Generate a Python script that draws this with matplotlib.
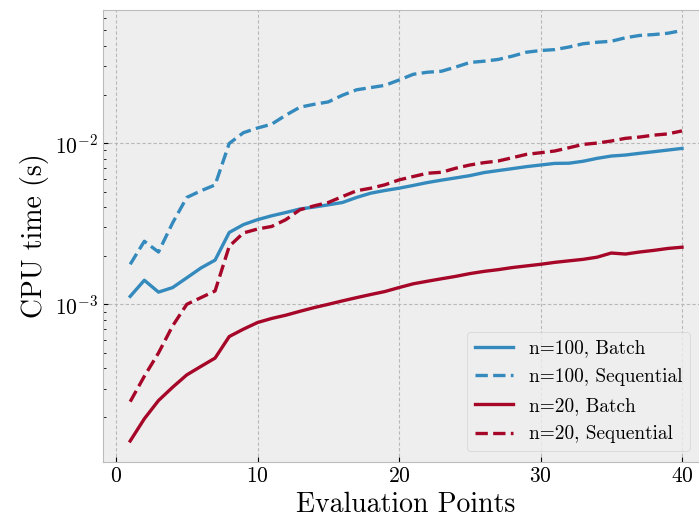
import matplotlib
matplotlib.use("Agg")
import matplotlib.pyplot as plt

plt.style.use('bmh')
plt.rcParams['font.family'] = 'serif'
plt.rcParams['font.serif'] = ['cmr10']
plt.rcParams['mathtext.fontset'] = 'cm'
plt.rcParams['axes.formatter.use_mathtext'] = True

# evaluation points 1..40
points = list(range(1, 41))

# n=100
batch_100 = [1.12e-3, 1.41e-3, 1.19e-3, 1.27e-3, 1.46e-3, 1.68e-3, 1.88e-3, 2.79e-3, 3.12e-3, 3.35e-3,
             3.54e-3, 3.71e-3, 3.90e-3, 4.01e-3, 4.14e-3, 4.28e-3, 4.60e-3, 4.89e-3, 5.08e-3, 5.25e-3,
             5.46e-3, 5.69e-3, 5.89e-3, 6.08e-3, 6.28e-3, 6.56e-3, 6.75e-3, 6.94e-3, 7.14e-3, 7.31e-3,
             7.48e-3, 7.50e-3, 7.71e-3, 8.04e-3, 8.31e-3, 8.43e-3, 8.64e-3, 8.84e-3, 9.05e-3, 9.27e-3]
seq_100 = [1.77e-3, 2.46e-3, 2.11e-3, 3.2e-3, 4.6e-3, 5.06e-3, 5.5e-3, 9.95e-3, 1.16e-2, 1.24e-2,
           1.31e-2, 1.49e-2, 1.67e-2, 1.74e-2, 1.80e-2, 1.98e-2, 2.14e-2, 2.21e-2, 2.28e-2, 2.46e-2,
           2.67e-2, 2.75e-2, 2.79e-2, 2.96e-2, 3.16e-2, 3.22e-2, 3.30e-2, 3.46e-2, 3.66e-2, 3.75e-2,
           3.80e-2, 3.94e-2, 4.13e-2, 4.22e-2, 4.28e-2, 4.50e-2, 4.65e-2, 4.71e-2, 4.80e-2, 4.99e-2]

# n=20
batch_20 = [1.42e-4, 1.95e-4, 2.53e-4, 3.06e-4, 3.65e-4, 4.12e-4, 4.64e-4, 6.31e-4, 7.01e-4, 7.71e-4,
            8.17e-4, 8.56e-4, 9.05e-4, 9.54e-4, 1.00e-3, 1.05e-3, 1.10e-3, 1.15e-3, 1.20e-3, 1.27e-3,
            1.34e-3, 1.39e-3, 1.44e-3, 1.49e-3, 1.55e-3, 1.60e-3, 1.64e-3, 1.69e-3, 1.73e-3, 1.77e-3,
            1.82e-3, 1.86e-3, 1.90e-3, 1.96e-3, 2.08e-3, 2.05e-3, 2.11e-3, 2.16e-3, 2.22e-3, 2.26e-3]
seq_20 = [2.49e-4, 3.58e-4, 4.99e-4, 7.35e-4, 1.0e-3, 1.10e-3, 1.21e-3, 2.29e-3, 2.77e-3, 2.93e-3,
          3.04e-3, 3.35e-3, 3.86e-3, 4.08e-3, 4.28e-3, 4.66e-3, 5.06e-3, 5.25e-3, 5.51e-3, 5.91e-3,
          6.2e-3, 6.5e-3, 6.59e-3, 6.98e-3, 7.31e-3, 7.56e-3, 7.74e-3, 8.11e-3, 8.51e-3, 8.71e-3,
          8.93e-3, 9.35e-3, 9.81e-3, 1.0e-2, 1.03e-2, 1.07e-2, 1.09e-2, 1.12e-2, 1.14e-2, 1.19e-2]

blue = '#348ABD'
red = '#A60628'

fig = plt.figure(figsize=(6.99, 5.21), dpi=100)
# axes runs a little past the right edge of the image, like the original crop
ax = fig.add_axes([102.6 / 699, 1 - 461.5 / 521, 607 / 699, 451.5 / 521])

ax.plot(points, batch_100, color=blue, linewidth=2.4, label='n=100, Batch')
ax.plot(points, seq_100, color=blue, linewidth=2.4, linestyle='--', label='n=100, Sequential')
ax.plot(points, batch_20, color=red, linewidth=2.4, label='n=20, Batch')
ax.plot(points, seq_20, color=red, linewidth=2.4, linestyle='--', label='n=20, Sequential')

ax.set_yscale('log')
ax.set_xticks([0, 10, 20, 30, 40])
ax.grid(True, which='major', linestyle=(0, (3, 2)), color='#b8b8b8', linewidth=0.8)
ax.tick_params(direction='in', which='both', labelsize=15.5)
ax.set_xlabel('Evaluation Points', fontsize=20)
ax.set_ylabel('CPU time (s)', fontsize=20)
ax.legend(loc='lower right', fontsize=13.9, labelspacing=0.55, handlelength=2.0,
          bbox_to_anchor=(690 / 699, 1 - 451 / 521), bbox_transform=fig.transFigure,
          borderaxespad=0)

fig.savefig('out.png', dpi=100)
